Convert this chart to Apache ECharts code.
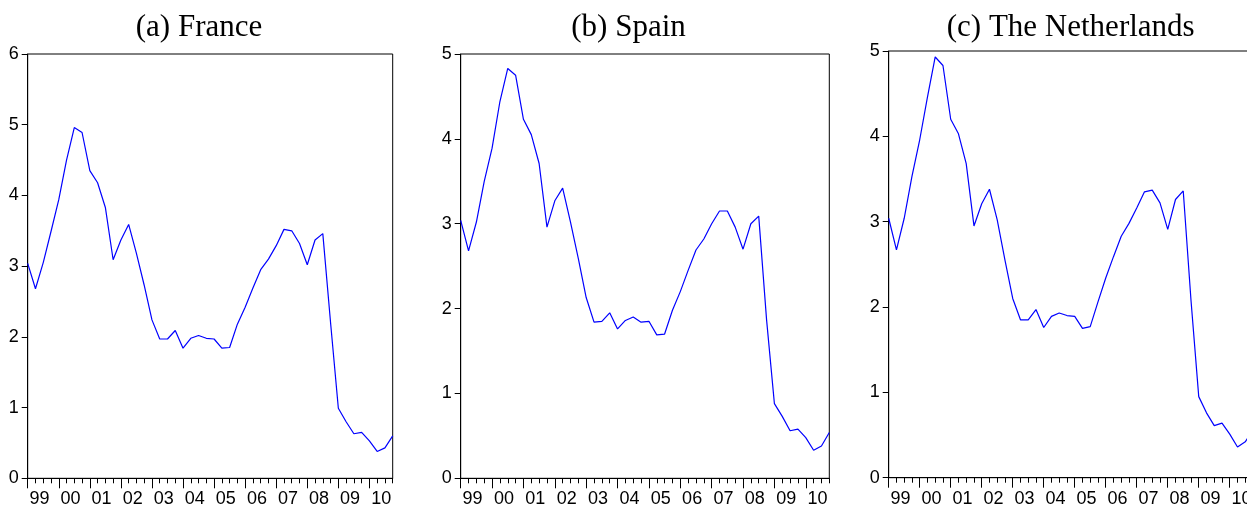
<!DOCTYPE html>
<html>
<head>
<meta charset="utf-8">
<script src="https://cdn.jsdelivr.net/npm/echarts@6/dist/echarts.min.js"></script>
<style>
html,body{margin:0;padding:0;background:#fff;}
#chart{width:1247px;height:506px;}
</style>
</head>
<body>
<div id="chart"></div>
<script>
// Quarterly observations 1999Q1 .. 2010Q4
const yearLabels = ['99','00','01','02','03','04','05','06','07','08','09','10'];
const quarters = [];
for (let y = 0; y < yearLabels.length; y++) for (let q = 1; q <= 4; q++) quarters.push(yearLabels[y] + 'Q' + q);

const titles = ['(a) France', '(b) Spain', '(c) The Netherlands'];

const france = [3.04,2.68,3.05,3.49,3.94,4.50,4.96,4.89,4.35,4.18,3.83,3.09,
  3.37,3.59,3.18,2.73,2.24,1.97,1.97,2.09,1.84,1.98,2.02,1.98,
  1.97,1.84,1.85,2.18,2.42,2.69,2.95,3.10,3.29,3.52,3.50,3.32,
  3.02,3.37,3.46,2.20,0.99,0.80,0.63,0.65,0.53,0.38,0.43,0.60];

const spain = [3.04,2.68,3.02,3.50,3.89,4.44,4.83,4.75,4.23,4.05,3.71,2.96,
  3.27,3.42,3.02,2.59,2.13,1.84,1.85,1.95,1.76,1.86,1.90,1.84,
  1.85,1.69,1.70,1.98,2.20,2.45,2.69,2.82,3.00,3.15,3.15,2.96,
  2.70,3.00,3.09,1.87,0.88,0.73,0.56,0.58,0.48,0.33,0.38,0.54];

const netherlands = [3.04,2.67,3.04,3.53,3.96,4.46,4.93,4.83,4.20,4.03,3.68,2.95,
  3.21,3.38,3.02,2.55,2.10,1.85,1.85,1.97,1.76,1.89,1.93,1.90,
  1.89,1.75,1.77,2.06,2.34,2.59,2.83,2.98,3.16,3.35,3.37,3.22,
  2.91,3.26,3.36,2.08,0.95,0.76,0.61,0.64,0.51,0.36,0.42,0.56];

const yMax = [6, 5, 5];
const seriesData = [france, spain, netherlands];

const grids = [
  {left: 27.7, top: 54, width: 365, height: 424.3},
  {left: 460.7, top: 54, width: 368.6, height: 424.3},
  {left: 888.7, top: 51, width: 364.3, height: 426.7}
];
const titleCenters = [194, 623.5, 1065.7];

const numFont = "'Liberation Sans Narrow', 'Liberation Sans', sans-serif";

const option = {
  animation: false,
  backgroundColor: '#fff',
  title: titles.map((t, i) => ({
    text: t,
    left: titleCenters[i],
    top: 7,
    textAlign: 'center',
    textStyle: {fontFamily: "'Liberation Serif', serif", fontSize: 31, fontWeight: 'normal', color: '#000'}
  })),
  grid: grids.map(g => Object.assign({
    show: true, borderColor: '#000', borderWidth: 1, backgroundColor: 'transparent',
    containLabel: false, outerBoundsMode: 'none'
  }, g)),
  xAxis: [],
  yAxis: [],
  series: []
};

for (let i = 0; i < 3; i++) {
  // minor (quarterly) ticks
  option.xAxis.push({
    type: 'category', gridIndex: i, position: 'bottom', data: quarters, boundaryGap: false,
    axisLine: {show: true, lineStyle: {color: '#000', width: 1}},
    axisTick: {show: true, interval: 0, length: 5, lineStyle: {color: '#000', width: 1}},
    axisLabel: {show: false},
    splitLine: {show: false}
  });
  // major (yearly) ticks with labels
  option.xAxis.push({
    type: 'category', gridIndex: i, position: 'bottom', offset: 0, data: quarters, boundaryGap: false,
    axisLine: {show: false},
    axisTick: {show: true, interval: 3, length: 10, lineStyle: {color: '#000', width: 1}},
    axisLabel: {
      show: true,
      interval: function (idx) { return idx % 4 === 1; },
      formatter: function (v) { return v.slice(0, 2); },
      margin: 12,
      padding: [0, 0, 0, 8],
      hideOverlap: false,
      fontFamily: numFont, fontSize: 18, color: '#000'
    },
    splitLine: {show: false}
  });
  option.yAxis.push({
    type: 'value', gridIndex: i, min: 0, max: yMax[i], interval: 1,
    axisLine: {show: true, lineStyle: {color: '#000', width: 1}},
    axisTick: {show: true, length: 6, lineStyle: {color: '#000', width: 1}},
    axisLabel: {margin: 9, fontFamily: numFont, fontSize: 18, color: '#000'},
    splitLine: {show: false}
  });
  option.series.push({
    type: 'line', xAxisIndex: i * 2, yAxisIndex: i,
    data: seriesData[i], showSymbol: false, symbol: 'none',
    lineStyle: {color: '#0000ff', width: 1.2}, itemStyle: {color: '#0000ff'},
    clip: true
  });
}

const chart = echarts.init(document.getElementById('chart'), null, {renderer: 'canvas'});
chart.setOption(option);
</script>
</body>
</html>
